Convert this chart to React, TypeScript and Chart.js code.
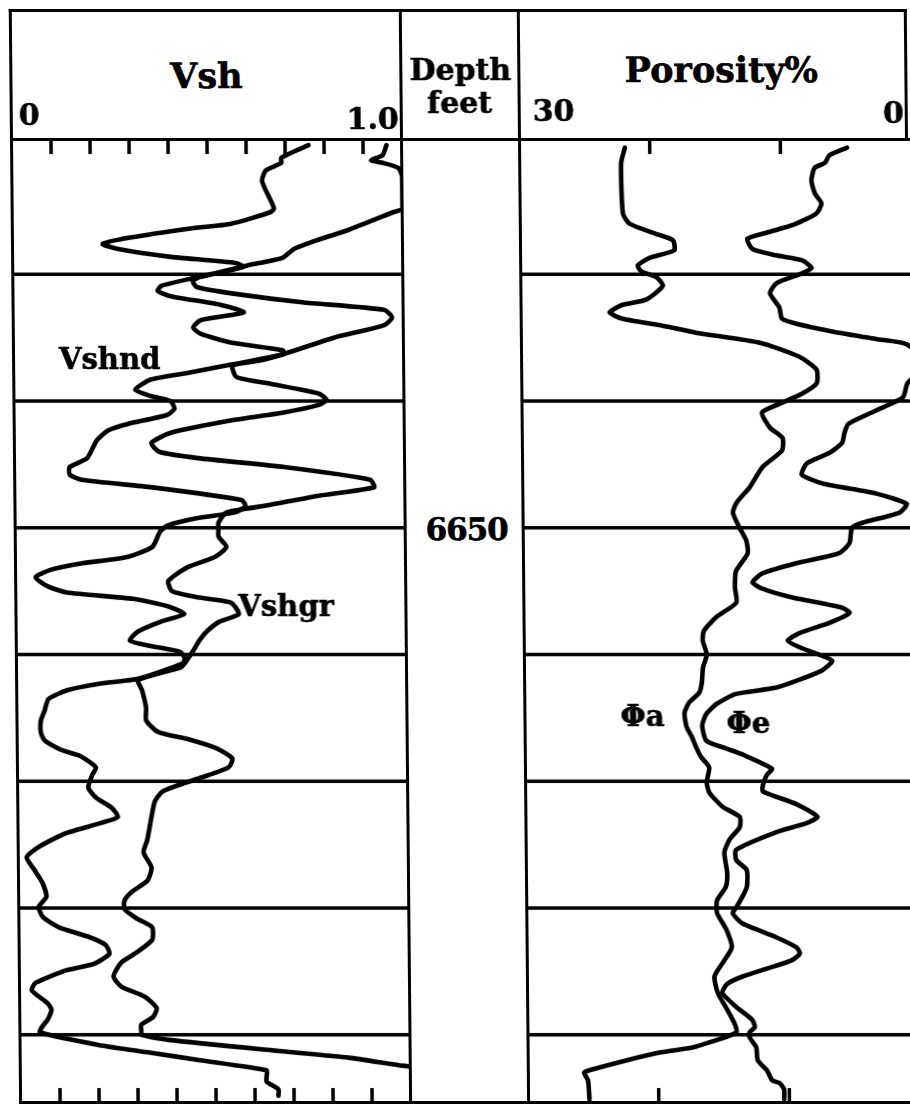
import React, { useEffect, useRef } from "react";
import { Chart, registerables } from "chart.js";

Chart.register(...registerables);

const FONT = "'DejaVu Serif', 'Liberation Serif', serif";

// ---- depth axis (feet) ----
const TOP_DEPTH = 6619.4;
const BOTTOM_DEPTH = 6695.3;
const GRID_DEPTHS = [6630, 6640, 6650, 6660, 6670, 6680, 6690];
const DEPTH_LABELS = [6650];

// ---- track scales ----
const VSH_TICKS = [0.1, 0.2, 0.3, 0.4, 0.5, 0.6, 0.7, 0.8, 0.9];
const POR_TICKS = [20, 10];

// ---- curves: [depth ft, value] ----
const VSHND: [number, number][] = [
  [6619.8, 0.96], [6620.6, 0.95], [6621.0, 0.92], [6621.2, 0.95], [6621.6, 0.99], [6622.3, 1.0],
  [6624.8, 1.0], [6625.1, 0.975], [6626.5, 0.86], [6627.3, 0.78], [6628.0, 0.72], [6628.7, 0.69],
  [6629.3, 0.6], [6629.9, 0.52], [6630.3, 0.46], [6630.9, 0.38], [6631.3, 0.37], [6631.7, 0.4],
  [6632.4, 0.53], [6633.0, 0.59], [6633.6, 0.48], [6634.2, 0.46], [6634.7, 0.48], [6635.4, 0.56],
  [6636.0, 0.69], [6636.3, 0.69], [6637.1, 0.56], [6637.8, 0.44], [6638.3, 0.35], [6639.1, 0.31],
  [6639.6, 0.35], [6640.0, 0.4], [6640.6, 0.41], [6641.1, 0.39], [6641.8, 0.29], [6642.3, 0.24],
  [6643.1, 0.21], [6644.5, 0.185], [6645.2, 0.14], [6645.8, 0.14], [6646.2, 0.17], [6646.8, 0.35],
  [6647.8, 0.58], [6648.3, 0.59], [6648.8, 0.56], [6649.2, 0.47], [6649.8, 0.39], [6650.3, 0.37],
  [6651.5, 0.35], [6652.3, 0.285], [6652.8, 0.17], [6653.3, 0.09], [6653.9, 0.05], [6654.6, 0.08],
  [6655.1, 0.13], [6655.6, 0.3], [6656.2, 0.39], [6656.8, 0.43], [6657.4, 0.37], [6658.2, 0.31],
  [6658.9, 0.29], [6659.3, 0.34], [6659.8, 0.42], [6660.3, 0.43], [6660.7, 0.425], [6661.9, 0.31],
  [6662.3, 0.21], [6662.8, 0.13], [6663.5, 0.08], [6664.4, 0.07], [6665.2, 0.06], [6666.2, 0.06],
  [6666.8, 0.07], [6667.5, 0.11], [6668.0, 0.16], [6668.9, 0.2], [6669.5, 0.19], [6670.5, 0.18],
  [6671.3, 0.2], [6672.1, 0.24], [6672.8, 0.255], [6673.3, 0.21], [6674.1, 0.12], [6675.2, 0.05],
  [6676.0, 0.02], [6677.0, 0.04], [6678.0, 0.06], [6679.1, 0.07], [6679.9, 0.05], [6680.7, 0.06],
  [6681.5, 0.1], [6682.3, 0.18], [6682.9, 0.22], [6683.6, 0.23], [6684.4, 0.19], [6684.9, 0.12],
  [6685.9, 0.04], [6686.5, 0.03], [6687.5, 0.07], [6688.0, 0.08], [6688.8, 0.07], [6689.4, 0.055],
  [6689.8, 0.05], [6690.8, 0.2], [6691.4, 0.33], [6692.0, 0.46], [6692.8, 0.63], [6693.3, 0.63],
  [6693.7, 0.63], [6694.3, 0.66], [6694.8, 0.66],
];

const VSHGR: [number, number][] = [
  [6619.8, 0.76], [6620.8, 0.69], [6621.2, 0.69], [6621.8, 0.65], [6622.6, 0.64], [6623.4, 0.65],
  [6624.8, 0.67], [6625.1, 0.66], [6626.0, 0.56], [6626.4, 0.45], [6627.1, 0.3], [6627.6, 0.23],
  [6628.0, 0.27], [6628.6, 0.4], [6629.1, 0.57], [6629.4, 0.59], [6630.2, 0.48], [6630.5, 0.46],
  [6631.0, 0.47], [6631.5, 0.56], [6632.2, 0.74], [6632.8, 0.95], [6633.4, 0.97], [6634.0, 0.95],
  [6635.0, 0.82], [6636.2, 0.7], [6636.8, 0.63], [6637.2, 0.56], [6638.1, 0.57], [6638.6, 0.65],
  [6639.4, 0.78], [6639.9, 0.8], [6640.3, 0.78], [6640.9, 0.69], [6641.5, 0.56], [6642.5, 0.4],
  [6643.3, 0.35], [6644.0, 0.37], [6644.5, 0.47], [6645.2, 0.69], [6646.2, 0.91], [6646.8, 0.92],
  [6647.5, 0.77], [6648.2, 0.65], [6648.8, 0.54], [6649.6, 0.52], [6650.0, 0.52], [6650.7, 0.52],
  [6651.5, 0.54], [6652.3, 0.51], [6653.1, 0.44], [6654.2, 0.39], [6655.0, 0.4], [6655.5, 0.47],
  [6655.9, 0.55], [6656.8, 0.57], [6657.4, 0.52], [6658.1, 0.49], [6658.8, 0.47], [6659.8, 0.45],
  [6660.7, 0.43], [6661.0, 0.42], [6662.0, 0.31], [6662.8, 0.32], [6664.2, 0.33], [6665.2, 0.33],
  [6666.1, 0.36], [6666.7, 0.44], [6667.4, 0.51], [6668.2, 0.55], [6668.9, 0.54], [6669.7, 0.47],
  [6670.1, 0.43], [6670.8, 0.37], [6671.6, 0.35], [6673.0, 0.34], [6674.6, 0.33], [6675.6, 0.32],
  [6676.8, 0.34], [6677.8, 0.33], [6678.7, 0.29], [6679.4, 0.27], [6680.1, 0.27], [6680.8, 0.3],
  [6681.5, 0.34], [6682.5, 0.34], [6683.5, 0.3], [6684.3, 0.26], [6685.4, 0.24], [6686.2, 0.26],
  [6687.0, 0.32], [6687.9, 0.35], [6688.6, 0.34], [6689.2, 0.31], [6689.8, 0.31], [6690.0, 0.31],
  [6690.4, 0.38], [6691.3, 0.67], [6691.8, 0.84], [6692.4, 0.97], [6692.5, 1.0],
];

const PHI_A: [number, number][] = [
  [6620.0, 21.9], [6621.2, 22.2], [6625.2, 22.1], [6626.0, 21.6], [6626.8, 19.6], [6627.3, 18.3],
  [6628.1, 18.2], [6628.7, 20.1], [6629.3, 21.0], [6629.8, 20.7], [6630.2, 19.6], [6630.9, 19.1],
  [6632.0, 20.4], [6632.4, 22.2], [6633.0, 23.2], [6633.5, 22.2], [6634.0, 19.4], [6634.6, 16.6],
  [6635.4, 11.7], [6636.5, 8.7], [6637.5, 7.4], [6638.6, 7.4], [6639.4, 8.5], [6640.1, 10.0],
  [6640.9, 11.6], [6642.1, 11.0], [6642.9, 10.05], [6643.9, 10.1], [6645.2, 11.6], [6646.8, 12.6],
  [6648.0, 13.6], [6648.8, 13.9], [6650.0, 13.4], [6651.0, 12.9], [6652.0, 12.8], [6653.4, 13.7],
  [6654.7, 13.8], [6655.9, 13.7], [6657.0, 15.2], [6658.1, 16.2], [6658.9, 16.3], [6660.0, 16.0],
  [6661.0, 16.3], [6662.2, 16.4], [6663.0, 16.6], [6663.8, 17.4], [6664.6, 17.75], [6665.7, 17.6],
  [6666.5, 17.2], [6667.4, 16.85], [6668.1, 16.5], [6668.9, 15.9], [6670.1, 16.1], [6670.9, 15.9],
  [6672.0, 14.9], [6672.8, 13.6], [6673.6, 13.6], [6674.6, 14.4], [6675.6, 14.8], [6677.2, 14.6],
  [6678.3, 14.7], [6679.4, 15.4], [6680.4, 15.4], [6681.7, 14.7], [6683.1, 14.3], [6684.3, 15.0],
  [6685.4, 15.65], [6686.7, 15.4], [6688.0, 14.7], [6689.1, 14.15], [6689.8, 14.0], [6690.6, 16.1],
  [6691.0, 17.4], [6691.4, 19.9], [6692.0, 22.4], [6692.8, 25.3], [6693.0, 25.7], [6693.6, 25.4],
  [6695.1, 25.3],
];

const PHI_E: [number, number][] = [
  [6620.0, 4.9], [6620.6, 6.25], [6621.2, 6.6], [6621.6, 7.4], [6622.6, 7.65], [6623.6, 7.4],
  [6624.4, 6.9], [6625.2, 7.3], [6626.1, 9.1], [6626.7, 11.1], [6627.2, 12.6], [6628.0, 12.2],
  [6628.5, 10.4], [6628.9, 8.4], [6629.5, 7.7], [6629.9, 8.4], [6630.7, 10.4], [6631.5, 10.9],
  [6632.6, 10.2], [6633.5, 10.0], [6633.9, 8.9], [6634.5, 6.15], [6635.1, 2.8], [6635.5, 0.5],
  [6637.0, -1.0], [6638.6, 0.45], [6639.7, 0.8], [6640.7, 2.8], [6641.8, 5.0], [6642.5, 5.3],
  [6643.3, 5.5], [6644.1, 6.5], [6644.9, 8.2], [6645.8, 8.6], [6646.5, 7.0], [6647.3, 2.9],
  [6648.1, 0.6], [6648.8, 1.15], [6649.6, 4.0], [6650.0, 4.8], [6651.2, 5.0], [6652.0, 5.8],
  [6652.8, 9.1], [6653.6, 11.7], [6654.3, 12.45], [6654.8, 11.7], [6655.5, 9.4], [6656.3, 5.6],
  [6656.7, 5.05], [6657.5, 6.6], [6658.3, 8.9], [6658.9, 9.8], [6659.5, 8.7], [6660.1, 7.15],
  [6660.5, 6.4], [6661.3, 7.3], [6662.6, 10.7], [6663.1, 13.8], [6663.9, 15.3], [6664.7, 16.1],
  [6665.6, 16.4], [6666.8, 16.1], [6667.4, 14.6], [6667.9, 13.3], [6669.0, 11.1], [6669.5, 11.5],
  [6670.3, 11.8], [6670.8, 11.8], [6671.8, 9.25], [6672.8, 7.65], [6673.3, 8.5], [6674.0, 10.8],
  [6675.4, 13.9], [6676.2, 13.9], [6677.0, 13.1], [6678.3, 13.1], [6679.1, 13.45], [6679.9, 13.9],
  [6680.4, 14.2], [6681.2, 13.5], [6682.3, 10.9], [6683.1, 9.35], [6683.6, 9.1], [6684.1, 9.7],
  [6684.7, 11.4], [6685.4, 13.5], [6686.0, 14.7], [6686.7, 15.05], [6687.8, 14.0], [6688.8, 12.8],
  [6689.4, 12.6], [6689.8, 13.0], [6690.2, 13.0], [6691.0, 12.5], [6692.0, 12.4], [6692.8, 11.7],
  [6693.6, 11.3], [6693.8, 10.75], [6694.3, 10.4], [6695.1, 10.4],
];

// ---- layout (px) ----
const PAD = 10;
const PLOT_TOP = 140;
const PLOT_BOTTOM = 1102;

const trackPlugin = {
  id: "trackGrid",
  beforeDatasetsDraw(chart: any, _args: any, opts: any) {
    const { ctx, chartArea: a, scales } = chart;
    const xs = scales.x;
    const ys = scales.y;
    ctx.save();
    ctx.strokeStyle = "#000";
    ctx.lineWidth = 3.5;
    ctx.lineCap = "butt";
    const seg = (x1: number, y1: number, x2: number, y2: number) => {
      ctx.beginPath();
      ctx.moveTo(x1, y1);
      ctx.lineTo(x2, y2);
      ctx.stroke();
    };
    for (const d of opts.grid as number[]) {
      const py = ys.getPixelForValue(d);
      seg(a.left, py, a.right, py);
    }
    for (const t of opts.ticks as number[]) {
      const px = xs.getPixelForValue(t);
      seg(px, a.top, px, a.top + opts.tickLen);
      seg(px, a.bottom - opts.tickLen, px, a.bottom);
    }
    ctx.restore();
  },
};

function makeConfig(curves: [number, number][][], min: number, max: number, reverse: boolean, ticks: number[]): any {
  return {
    type: "scatter",
    data: {
      datasets: curves.map((c) => ({
        data: c.map(([d, v]) => ({ x: v, y: d })),
        showLine: true,
        borderColor: "#000",
        borderWidth: 4.6,
        pointRadius: 0,
        pointHoverRadius: 0,
        tension: 0.2,
        fill: false,
        borderJoinStyle: "round",
        borderCapStyle: "round",
      })),
    },
    options: {
      animation: false,
      responsive: false,
      devicePixelRatio: 1,
      events: [],
      layout: { padding: { left: PAD, right: PAD, top: PAD, bottom: PAD } },
      scales: {
        x: { type: "linear", min, max, reverse, display: false },
        y: { type: "linear", min: TOP_DEPTH, max: BOTTOM_DEPTH, reverse: true, display: false },
      },
      plugins: {
        legend: { display: false },
        tooltip: { enabled: false },
        trackGrid: { grid: GRID_DEPTHS, ticks, tickLen: 14 },
      },
    },
    plugins: [trackPlugin],
  };
}

const Bar = ({ l, t, w, h }: { l: number; t: number; w: number; h: number }) => (
  <div style={{ position: "absolute", left: l, top: t, width: w, height: h, background: "#000" }} />
);

type TProps = { x: number; base: number; size: number; align?: "left" | "center" | "right"; children: React.ReactNode; ls?: number };
const T = ({ x, base, size, align = "left", children, ls = 0 }: TProps) => (
  <div
    style={{
      position: "absolute",
      left: x,
      top: base - 0.846 * size,
      transform: align === "center" ? "translateX(-50%)" : align === "right" ? "translateX(-100%)" : undefined,
      fontFamily: FONT,
      fontWeight: "bold",
      fontSize: size,
      lineHeight: 1,
      letterSpacing: ls,
      whiteSpace: "nowrap",
      color: "#000",
      WebkitTextStroke: "0.6px #000",
    }}
  >
    {children}
  </div>
);

const depthToY = (d: number) => PLOT_TOP + ((d - TOP_DEPTH) / (BOTTOM_DEPTH - TOP_DEPTH)) * (PLOT_BOTTOM - PLOT_TOP);

export default function App() {
  const leftRef = useRef<HTMLCanvasElement>(null);
  const rightRef = useRef<HTMLCanvasElement>(null);

  useEffect(() => {
    const c1 = new Chart(leftRef.current as HTMLCanvasElement, makeConfig([VSHND, VSHGR], 0, 1, false, VSH_TICKS));
    const c2 = new Chart(rightRef.current as HTMLCanvasElement, makeConfig([PHI_A, PHI_E], 0, 30, true, POR_TICKS));
    return () => {
      c1.destroy();
      c2.destroy();
    };
  }, []);

  const canvasH = PLOT_BOTTOM - PLOT_TOP + 2 * PAD;

  return (
    <div style={{ position: "absolute", left: 0, top: 0, width: 910, height: 1104, overflow: "hidden", background: "#fff" }}>
      <div
        style={{
          position: "absolute",
          left: 0,
          top: 0,
          width: 940,
          height: 1104,
          transform: "skewX(0.544deg)",
          transformOrigin: "0px 140px",
        }}
      >
        <canvas
          ref={leftRef}
          width={410}
          height={canvasH}
          style={{ position: "absolute", left: 2, top: PLOT_TOP - PAD, width: 410, height: canvasH }}
        />
        <canvas
          ref={rightRef}
          width={412}
          height={canvasH}
          style={{ position: "absolute", left: 509, top: PLOT_TOP - PAD, width: 412, height: canvasH }}
        />

        {/* frame */}
        <Bar l={10} t={9} w={898} h={3} />
        <Bar l={10} t={138} w={920} h={3} />
        <Bar l={10} t={9} w={3} h={1110} />
        <Bar l={400} t={9} w={3} h={1110} />
        <Bar l={518} t={9} w={3} h={1110} />
        <Bar l={905} t={9} w={3} h={132} />
        <Bar l={10} t={1101} w={920} h={3} />

        {/* header */}
        <T x={207} base={88} size={35} align="center">Vsh</T>
        <T x={19} base={125} size={30}>0</T>
        <T x={399} base={129} size={30} align="right">1.0</T>
        <T x={461} base={80} size={30} align="center">Depth</T>
        <T x={460} base={113} size={30} align="center">feet</T>
        <T x={533} base={121} size={30}>30</T>
        <T x={904} base={123} size={30} align="right">0</T>
        <T x={722} base={82} size={35} align="center">Porosity%</T>

        {/* depth labels */}
        {DEPTH_LABELS.map((d) => (
          <T key={d} x={463} base={depthToY(d) + 12} size={31} align="center" ls={-1}>
            {String(d)}
          </T>
        ))}

        {/* curve labels */}
        <T x={57} base={370} size={29}>Vshnd</T>
        <T x={234} base={617} size={29}>Vshgr</T>
        <T x={615} base={727} size={29}>Φa</T>
        <T x={721} base={734} size={29}>Φe</T>
      </div>
    </div>
  );
}
